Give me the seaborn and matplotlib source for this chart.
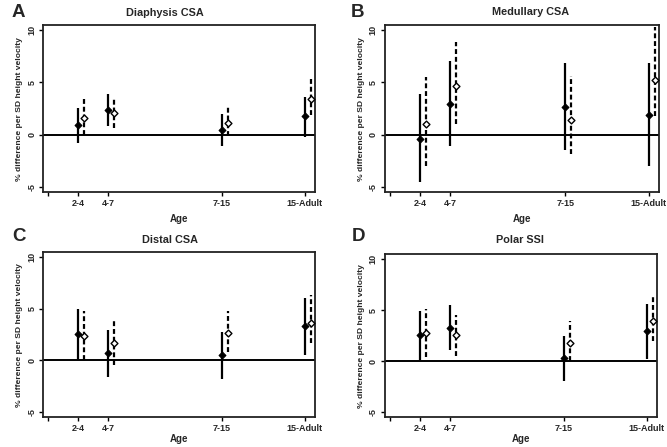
import numpy as np
import pandas as pd
import matplotlib
matplotlib.use("Agg")
import matplotlib.pyplot as plt
import seaborn as sns

# age bands and where they sit on the age axis
ages = ["2-4", "4-7", "7-15", "15-Adult"]
age_pos = [3, 5.5, 15, 21.9]

panels = ["Diaphysis CSA", "Medullary CSA", "Distal CSA", "Polar SSI"]
letters = ["A", "B", "C", "D"]

# estimate, lower CI, upper CI -- solid (model 1) and dashed (model 2)
solid_est = [[0.9, 2.4, 0.42, 1.76],
             [-0.4, 2.9, 2.65, 1.9],
             [2.55, 0.7, 0.48, 3.3],
             [2.55, 3.3, 0.32, 2.97]]
solid_lo = [[-0.8, 0.8, -1.1, -0.2],
            [-4.5, -1.1, -1.45, -3.0],
            [0.15, -1.6, -1.85, 0.55],
            [0.15, 1.05, -1.92, 0.25]]
solid_hi = [[2.55, 3.87, 2.0, 3.6],
            [3.9, 7.1, 6.85, 6.9],
            [4.95, 2.97, 2.78, 6.0],
            [4.95, 5.5, 2.46, 5.6]]

dash_est = [[1.63, 2.08, 1.12, 3.45],
            [1.0, 4.65, 1.39, 5.28],
            [2.4, 1.7, 2.7, 3.67],
            [2.72, 2.55, 1.76, 3.9]]
dash_lo = [[0.0, 0.64, -0.1, 1.9],
           [-3.0, 1.0, -1.8, 1.75],
           [0.0, -0.48, 0.8, 1.7],
           [0.38, 0.48, 0.0, 1.98]]
dash_hi = [[3.4, 3.5, 2.7, 5.4],
           [5.5, 8.9, 5.6, 10.3],
           [4.8, 4.0, 4.8, 6.3],
           [5.1, 4.57, 3.9, 6.55]]

sns.set_theme(style="ticks")
plt.rcParams["font.family"] = ["Liberation Sans", "DejaVu Sans"]
plt.rcParams["font.weight"] = "bold"

W, H = 667, 447
fig = plt.figure(figsize=(W / 100, H / 100), dpi=100)
boxes = [[0.065, 0.570, 0.407, 0.374],
         [0.577, 0.570, 0.411, 0.374],
         [0.065, 0.067, 0.407, 0.369],
         [0.577, 0.067, 0.408, 0.364]]
# title centres and letter corners, in pixels
title_xy = [(165, 13), (531, 12), (170, 240), (520, 240)]
letter_xy = [(12, 4), (351, 4), (12, 228), (352, 228)]

offset = 0.5

for i in range(4):
    ax = fig.add_axes(boxes[i])
    rows = []
    for j, a in enumerate(ages):
        rows.append({"x": age_pos[j], "est": solid_est[i][j], "lo": solid_lo[i][j],
                     "hi": solid_hi[i][j], "model": "solid"})
        rows.append({"x": age_pos[j] + offset, "est": dash_est[i][j], "lo": dash_lo[i][j],
                     "hi": dash_hi[i][j], "model": "dashed"})
    df = pd.DataFrame(rows)
    s = df[df.model == "solid"]
    d = df[df.model == "dashed"]

    ax.axhline(0, color="black", lw=1.4, zorder=1)
    ax.vlines(s.x, s.lo, s.hi, colors="black", lw=1.6, linestyles="solid", zorder=2)
    ax.vlines(d.x, d.lo, d.hi, colors="black", lw=1.6, linestyles=(0, (2.2, 1.3)), zorder=2)
    sns.scatterplot(data=s, x="x", y="est", ax=ax, marker="D", s=12,
                    color="black", edgecolor="black", linewidth=0.8, zorder=3, legend=False)
    sns.scatterplot(data=d, x="x", y="est", ax=ax, marker="D", s=12,
                    color="white", edgecolor="black", linewidth=1.0, zorder=3, legend=False)

    ax.set_xlim(0.08, 22.75)
    ax.set_ylim(-5.5, 10.5)
    ax.set_xticks([0.5] + age_pos)
    ax.set_xticklabels([""] + ages, fontsize=6.5, fontweight="bold")
    ax.set_yticks([-5, 0, 5, 10])
    ax.set_yticklabels(["-5", "0", "5", "10"], fontsize=6.5, rotation=90,
                       va="center", fontweight="bold")
    ax.tick_params(length=3, width=1, pad=2, color="black")
    for sp in ax.spines.values():
        sp.set_visible(True)
        sp.set_linewidth(1.3)
        sp.set_color("#222222")
    ax.set_xlabel("Age", fontsize=7, fontweight="bold", labelpad=4 if i < 2 else 0.5)
    ax.set_ylabel("% difference per SD height velocity", fontsize=6.1,
                  fontweight="bold", labelpad=3)
    tx, ty = title_xy[i]
    fig.text(tx / W, 1 - ty / H, panels[i], fontsize=7.8, fontweight="bold",
             ha="center", va="center")
    lx, ly = letter_xy[i]
    fig.text(lx / W, 1 - ly / H, letters[i], fontsize=13.5,
             fontweight="bold", ha="left", va="top")

fig.savefig("out.png", dpi=100)
